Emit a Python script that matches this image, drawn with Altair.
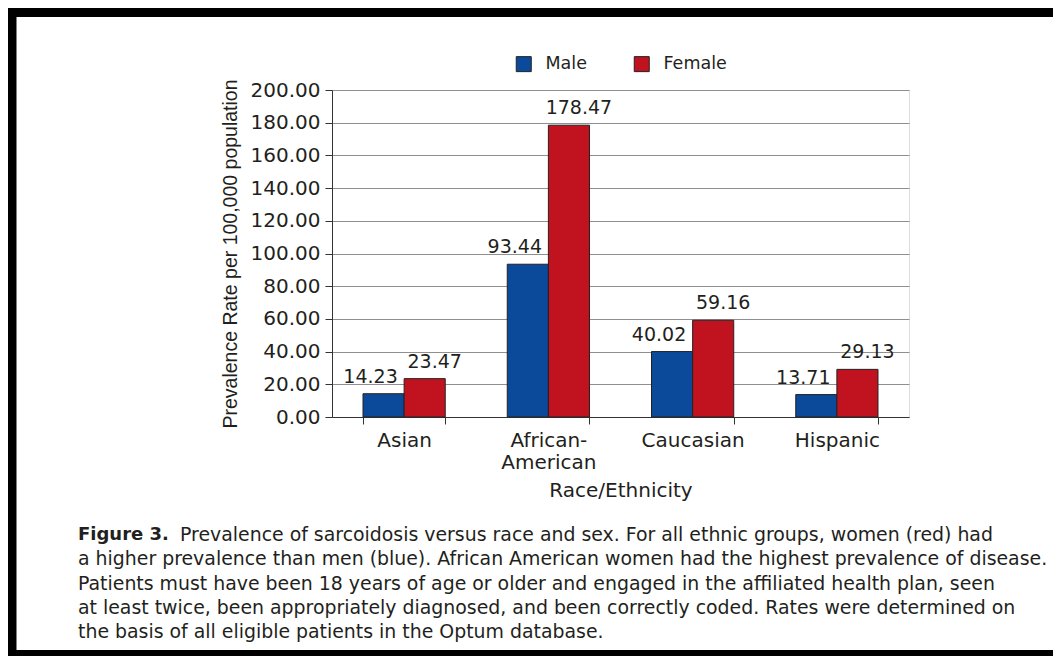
import altair as alt
import pandas as pd

categories = ["Asian", "African-American", "Caucasian", "Hispanic"]
sexes = ["Male", "Female"]
male = [14.23, 93.44, 40.02, 13.71]
female = [23.47, 178.47, 59.16, 29.13]
y_ticks = [0, 20, 40, 60, 80, 100, 120, 140, 160, 180, 200]

caption_head = "Figure 3."
caption_first = "Prevalence of sarcoidosis versus race and sex. For all ethnic groups, women (red) had"
caption_rest = [
    "a higher prevalence than men (blue). African American women had the highest prevalence of disease.",
    "Patients must have been 18 years of age or older and engaged in the affiliated health plan, seen",
    "at least twice, been appropriately diagnosed, and been correctly coded. Rates were determined on",
    "the basis of all eligible patients in the Optum database.",
]

BLUE = "#0b4a9b"
RED = "#c1121f"
TXT = "#231f20"
FONT = "DejaVu Sans"

rows = []
for c, m, f in zip(categories, male, female):
    rows.append({"race": c, "sex": "Male", "rate": m})
    rows.append({"race": c, "sex": "Female", "rate": f})
df = pd.DataFrame(rows)

x_enc = alt.X(
    "race:N",
    sort=categories,
    scale=alt.Scale(paddingInner=0.43, paddingOuter=0.215),
    axis=alt.Axis(
        title="Race/Ethnicity",
        labelAngle=0,
        tickBand="extent",
        tickSize=7,
        labelPadding=6,
        labelFont=FONT,
        labelFontSize=20,
        labelLineHeight=22,
        labelColor=TXT,
        labelExpr="datum.value == 'African-American' ? ['African-', 'American'] : datum.value",
        titleFont=FONT,
        titleFontSize=20,
        titleFontWeight="normal",
        titleColor=TXT,
        titlePadding=8,
        domainColor="#333333",
        tickColor="#333333",
        grid=False,
    ),
)
xo_enc = alt.XOffset("sex:N", sort=sexes, scale=alt.Scale(paddingInner=0, paddingOuter=0))
y_enc = alt.Y(
    "rate:Q",
    scale=alt.Scale(domain=[0, 200], nice=False),
    axis=alt.Axis(
        title="Prevalence Rate per 100,000 population",
        values=y_ticks,
        format=".2f",
        tickSize=7,
        labelPadding=5,
        labelFont=FONT,
        labelFontSize=20,
        labelColor=TXT,
        titleFont="Liberation Sans",
        titleFontSize=19.5,
        titleFontWeight="normal",
        titleColor=TXT,
        titlePadding=10,
        domainColor="#333333",
        tickColor="#333333",
        grid=True,
        gridColor="#8f8f8f",
        gridWidth=1,
    ),
)

base = alt.Chart(df)

bars = base.mark_bar(stroke="#222222", strokeWidth=1).encode(
    x=x_enc,
    xOffset=xo_enc,
    y=y_enc,
    color=alt.Color(
        "sex:N",
        sort=sexes,
        scale=alt.Scale(domain=sexes, range=[BLUE, RED]),
        legend=alt.Legend(
            title=None,
            orient="none",
            direction="horizontal",
            legendX=183,
            legendY=-35,
            symbolType="square",
            symbolSize=225,
            symbolStrokeColor="#222222",
            symbolStrokeWidth=1,
            symbolOpacity=1,
            labelFont=FONT,
            labelFontSize=17.5,
            labelColor=TXT,
            labelOffset=13,
            columnPadding=45,
            padding=0,
        ),
    ),
)

male_labels = base.transform_filter(alt.datum.sex == "Male").mark_text(
    font=FONT, fontSize=19, color=TXT, baseline="middle", dy=-17, dx=-13
).encode(x=x_enc, xOffset=xo_enc, y=y_enc, text=alt.Text("rate:Q", format=".2f"))

female_labels = base.transform_filter(alt.datum.sex == "Female").mark_text(
    font=FONT, fontSize=19, color=TXT, baseline="middle", dy=-17, dx=10
).encode(x=x_enc, xOffset=xo_enc, y=y_enc, text=alt.Text("rate:Q", format=".2f"))

one = pd.DataFrame({"k": [0]})

frame = alt.Chart(one).mark_rect(fill="transparent", stroke="black", strokeWidth=9).encode(
    x=alt.value(-320), x2=alt.value(760), y=alt.value(-77.5), y2=alt.value(564.5)
)

cap_head = alt.Chart(one).mark_text(
    text=caption_head, font=FONT, fontSize=18, fontWeight="bold", color=TXT,
    align="left", baseline="middle"
).encode(x=alt.value(-254), y=alt.value(445))

cap_first = alt.Chart(one).mark_text(
    text=caption_first, font=FONT, fontSize=18.9, color=TXT,
    align="left", baseline="middle"
).encode(x=alt.value(-152), y=alt.value(445))

cap_rest = alt.Chart(one).mark_text(
    text=caption_rest, font=FONT, fontSize=18.9, color=TXT,
    align="left", baseline="middle", lineHeight=24.3
).encode(x=alt.value(-254), y=alt.value(469.3))

chart = alt.layer(
    bars, male_labels, female_labels, cap_head, cap_first, cap_rest, frame
).properties(
    width=577,
    height=327,
    padding={"left": 324, "top": 82, "right": 144, "bottom": 239},
    autosize=alt.AutoSizeParams(type="none"),
).configure_view(strokeWidth=0).configure(background="white")

chart.save("out.html", embed_options={"renderer": "svg", "actions": False})
